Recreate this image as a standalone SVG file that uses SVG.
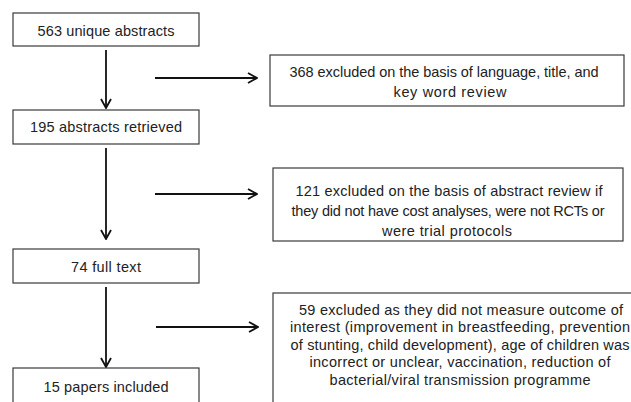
<svg xmlns="http://www.w3.org/2000/svg" width="631" height="402" viewBox="0 0 631 402">
<style>
.box{fill:#fff;stroke:#3a3a3a;stroke-width:1.2}
.t{font-family:"Liberation Sans",Arial,sans-serif;font-size:14.5px;fill:#222;text-anchor:middle}
.c{stroke:#111;stroke-width:1.8;fill:none}
</style>
<defs>
<marker id="ah" viewBox="0 0 12 12" refX="11" refY="6" markerWidth="12" markerHeight="12" markerUnits="userSpaceOnUse" orient="auto">
<path d="M2,1 L11,6 L2,11" fill="none" stroke="#111" stroke-width="1.8"/>
</marker>
</defs>
<rect width="631" height="402" fill="#fff"/>
<g id="connectors">
<line class="c" x1="106" y1="50" x2="106" y2="108" marker-end="url(#ah)"/>
<line class="c" x1="155" y1="78" x2="257" y2="78" marker-end="url(#ah)"/>
<line class="c" x1="106" y1="148" x2="106" y2="239" marker-end="url(#ah)"/>
<line class="c" x1="155" y1="194" x2="257" y2="194" marker-end="url(#ah)"/>
<line class="c" x1="106" y1="287" x2="106" y2="367" marker-end="url(#ah)"/>
<line class="c" x1="156" y1="327" x2="258" y2="327" marker-end="url(#ah)"/>
</g>
<g id="n1"><rect class="box" x="13" y="13" width="186" height="33"/><text class="t" x="106" y="36" textLength="137">563 unique abstracts</text></g>
<g id="n2"><rect class="box" x="13" y="110" width="186" height="34"/><text class="t" x="106" y="132" textLength="152">195 abstracts retrieved</text></g>
<g id="n3"><rect class="box" x="13" y="249" width="186" height="34"/><text class="t" x="106" y="272" textLength="70">74 full text</text></g>
<g id="n4"><rect class="box" x="13" y="368" width="186" height="40"/><text class="t" x="106" y="392" textLength="125">15 papers included</text></g>
<g id="e1"><rect class="box" x="270" y="55" width="354" height="51"/><text class="t" x="444" y="77" textLength="309">368 excluded on the basis of language, title, and</text><text class="t" x="450" y="97" textLength="113">key word review</text></g>
<g id="e2"><rect class="box" x="273" y="168" width="350" height="73"/><text class="t" x="449" y="196" textLength="307">121 excluded on the basis of abstract review if</text><text class="t" x="448" y="216" textLength="313">they did not have cost analyses, were not RCTs or</text><text class="t" x="447" y="236" textLength="130">were trial protocols</text></g>
<g id="e3"><rect class="box" x="273" y="293" width="374" height="120"/><text class="t" x="461" y="314.5" textLength="324">59 excluded as they did not measure outcome of</text><text class="t" x="460" y="332" textLength="340">interest (improvement in breastfeeding, prevention</text><text class="t" x="460" y="349.5" textLength="339">of stunting, child development), age of children was</text><text class="t" x="460" y="367" textLength="301">incorrect or unclear, vaccination, reduction of</text><text class="t" x="460" y="385" textLength="261">bacterial/viral transmission programme</text></g>
</svg>
